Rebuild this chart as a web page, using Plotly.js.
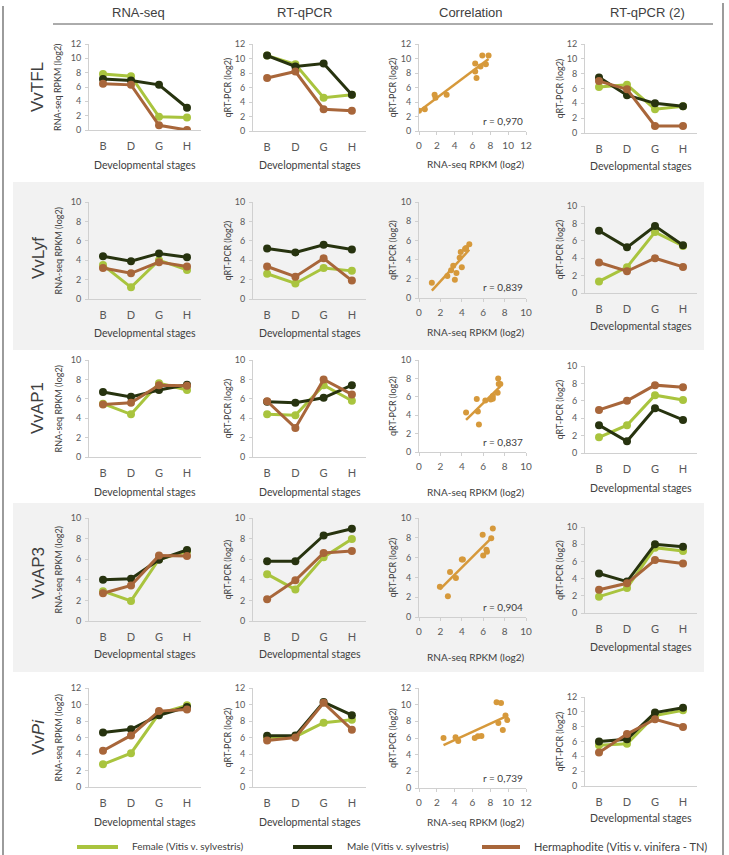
<!DOCTYPE html>
<html><head><meta charset="utf-8">
<script src="https://cdn.plot.ly/plotly-3.0.1.min.js"></script>
<style>html,body{margin:0;padding:0;background:#fff}#chart{width:729px;height:855px}</style>
</head><body><div id="chart"></div>
<script>
const stages = ['B','D','G','H'];
const genes = ['VvTFL','VvLyf','VvAP1','VvAP3','Vv<i>Pi</i>'];
const genotypes = ['Female (Vitis v. sylvestris)','Male (Vitis v. sylvestris)','Hermaphodite (Vitis v. vinifera - TN)'];
const columnTitles = ['RNA-seq','RT-qPCR','Correlation','RT-qPCR (2)'];
const rValues = ['0,970','0,839','0,837','0,904','0,739'];
const yMax = [12,10,10,10,12];
const corrXMax = [12,10,10,10,12];

// each array: [female, male, hermaphrodite] x stages B, D, G, H
const TFL_rnaseq = [[7.8,7.5,1.85,1.75],[7.1,6.9,6.3,3.1],[6.45,6.3,0.65,0]];
const TFL_qpcr   = [[10.4,9.2,4.6,5.0],[10.4,8.9,9.3,5.0],[7.3,8.2,3.0,2.8]];
const TFL_qpcr2  = [[6.2,6.5,3.2,3.6],[7.5,5.1,4.0,3.6],[7.0,5.9,0.95,0.95]];
const Lyf_rnaseq = [[3.5,1.2,4.0,3.0],[4.4,3.9,4.7,4.3],[3.2,2.65,3.8,3.35]];
const Lyf_qpcr   = [[2.6,1.6,3.2,2.9],[5.2,4.8,5.6,5.1],[3.35,2.3,4.2,1.9]];
const Lyf_qpcr2  = [[1.33,2.97,7.0,5.4],[7.15,5.25,7.7,5.5],[3.5,2.5,4.0,3.0]];
const AP1_rnaseq = [[5.5,4.4,7.6,6.9],[6.7,6.2,6.9,7.45],[5.4,5.6,7.4,7.35]];
const AP1_qpcr   = [[4.4,4.3,7.4,5.8],[5.7,5.6,6.1,7.4],[5.75,3.0,8.0,6.45]];
const AP1_qpcr2  = [[1.8,3.2,6.65,6.1],[3.2,1.35,5.15,3.8],[4.95,6.0,7.8,7.55]];
const AP3_rnaseq = [[2.9,1.95,6.0,6.75],[4.0,4.1,5.95,6.9],[2.7,3.45,6.35,6.3]];
const AP3_qpcr   = [[4.55,3.05,6.2,7.95],[5.8,5.8,8.3,8.95],[2.1,3.95,6.6,6.8]];
const AP3_qpcr2  = [[1.9,2.9,7.6,7.2],[4.6,3.65,8.0,7.7],[2.7,3.45,6.15,5.75]];
const Pi_rnaseq  = [[2.75,4.1,8.9,9.9],[6.6,7.0,8.7,9.7],[4.4,6.25,9.2,9.4]];
const Pi_qpcr    = [[6.0,6.1,7.8,8.15],[6.2,6.25,10.3,8.7],[5.65,6.0,10.2,6.95]];
const Pi_qpcr2   = [[5.5,5.7,9.5,10.2],[6.0,6.3,9.9,10.55],[4.5,7.0,9.0,7.95]];

const rnaseqData = [TFL_rnaseq, Lyf_rnaseq, AP1_rnaseq, AP3_rnaseq, Pi_rnaseq];
const qpcrData   = [TFL_qpcr, Lyf_qpcr, AP1_qpcr, AP3_qpcr, Pi_qpcr];
const qpcr2Data  = [TFL_qpcr2, Lyf_qpcr2, AP1_qpcr2, AP3_qpcr2, Pi_qpcr2];

// ---- styling / geometry (pixels) ----
const W = 729, H = 855;
const seriesColors = ['#a9c43e','#27330f','#a8663a'];
const corrColor = '#d6993b';
const colX = [[89,201],[253,366],[419,526],[585,697]];
const rowY = [
  [[44,130],[44,131],[44,131],[44,133]],
  [[202,299],[202,299],[202,298],[206,293]],
  [[360,457],[360,457],[360,452],[366,453]],
  [[518,621],[518,621],[518,617],[527,613]],
  [[688,787],[688,787],[688,788],[697,786]]
];
const xTitleY = [[165,165,164,166],[333,333,332,326],[492,492,492,488],[654,654,657,647],[822,822,822,818]];
const yTitleX = [58,227,392,559];
const rowLabelY = [87,258,408,573,737];
const rY = [121,287,442,607,778];

const px = x => x / W;
const py = y => 1 - y / H;
const FONT = 'Lato, "Open Sans", sans-serif';
const tickGray = '#595959';
const axisLine = '#d0d0d0';

const traces = [];
const layout = {
  width: W, height: H,
  margin: {l:0, r:0, t:0, b:0},
  paper_bgcolor: '#ffffff',
  plot_bgcolor: 'rgba(0,0,0,0)',
  showlegend: false,
  font: {family: FONT, color: tickGray},
  shapes: [], annotations: []
};

function ann(text, x, y, opts) {
  layout.annotations.push(Object.assign({
    text: text, x: px(x), y: py(y), xref: 'paper', yref: 'paper',
    showarrow: false, xanchor: 'center', yanchor: 'middle',
    font: {family: FONT, size: 10, color: tickGray}
  }, opts || {}));
}

for (let r = 0; r < 5; r++) {
  for (let c = 0; c < 4; c++) {
    const k = r * 4 + c + 1;
    const xa = k === 1 ? 'xaxis' : 'xaxis' + k;
    const ya = k === 1 ? 'yaxis' : 'yaxis' + k;
    const xr = 'x' + (k === 1 ? '' : k);
    const yr = 'y' + (k === 1 ? '' : k);
    const [y0, y1] = rowY[r][c];
    const [x0, x1] = colX[c];
    const isCorr = c === 2;
    layout[xa] = {
      domain: [px(x0), px(x1)], anchor: yr,
      showline: true, linecolor: axisLine, linewidth: 1,
      showgrid: false, zeroline: false, fixedrange: true,
      tickfont: {family: FONT, size: isCorr ? 10 : 11, color: tickGray}
    };
    if (isCorr) {
      Object.assign(layout[xa], {type: 'linear', range: [0, corrXMax[r]], dtick: 2,
        ticks: 'outside', ticklen: 3, tickcolor: axisLine, ticklabelstandoff: 2});
    } else {
      Object.assign(layout[xa], {type: 'category', range: [-0.5, 3.5], ticks: '', ticklabelstandoff: 6});
    }
    layout[ya] = {
      domain: [py(y1), py(y0)], anchor: xr,
      range: [0, yMax[r]], dtick: 2,
      showline: true, linecolor: axisLine, linewidth: 1,
      ticks: 'outside', ticklen: 3, tickcolor: axisLine,
      showgrid: false, zeroline: false, fixedrange: true,
      tickfont: {family: FONT, size: 9, color: tickGray}, ticklabelstandoff: 2
    };

    if (isCorr) {
      const xs = rnaseqData[r].flat();
      const ys = qpcrData[r].flat();
      traces.push({type: 'scatter', mode: 'markers', x: xs, y: ys, xaxis: xr, yaxis: yr,
        marker: {size: 6, color: corrColor}, hoverinfo: 'skip'});
      // least-squares trend line through the points
      const n = xs.length;
      const mx = xs.reduce((a,b)=>a+b,0)/n, my = ys.reduce((a,b)=>a+b,0)/n;
      let sxy = 0, sxx = 0;
      for (let i = 0; i < n; i++) { sxy += (xs[i]-mx)*(ys[i]-my); sxx += (xs[i]-mx)**2; }
      const b = sxy / sxx, a = my - b * mx;
      const xmin = Math.min(...xs), xmax = Math.max(...xs);
      traces.push({type: 'scatter', mode: 'lines', x: [xmin, xmax], y: [a + b*xmin, a + b*xmax],
        xaxis: xr, yaxis: yr, line: {color: corrColor, width: 2.5}, hoverinfo: 'skip'});
      ann('r = ' + rValues[r], 503, rY[r], {font: {family: FONT, size: 10, color: '#404040'}});
      ann('RNA-seq RPKM (log2)', 476, xTitleY[r][c], {font: {family: FONT, size: 10, color: '#404040'}});
      ann('qRT-PCR (log2)', yTitleX[c], (y0 + y1) / 2, {textangle: -90, font: {family: FONT, size: 9, color: '#404040'}});
    } else {
      const data = c === 0 ? rnaseqData[r] : (c === 1 ? qpcrData[r] : qpcr2Data[r]);
      for (let g = 0; g < 3; g++) {
        traces.push({type: 'scatter', mode: 'lines+markers', x: stages, y: data[g],
          xaxis: xr, yaxis: yr, name: genotypes[g],
          line: {color: seriesColors[g], width: 3},
          marker: {size: 8, color: seriesColors[g]}, hoverinfo: 'skip'});
      }
      ann('Developmental stages', (x0 + x1) / 2, xTitleY[r][c], {font: {family: FONT, size: 10.5, color: '#404040'}});
      ann(c === 0 ? 'RNA-seq RPKM (log2)' : 'qRT-PCR (log2)', yTitleX[c], (y0 + y1) / 2,
        {textangle: -90, font: {family: FONT, size: 9, color: '#404040'}});
    }
  }
  ann(genes[r], 38, rowLabelY[r], {textangle: -90,
    font: {family: '"Liberation Sans", Arial, sans-serif', size: 17, color: '#404040'}});
}

// column headers
const headerX = [138, 304, 471, 647];
columnTitles.forEach((t, i) => ann(t, headerX[i], 12,
  {font: {family: '"Liberation Sans", Arial, sans-serif', size: 13, color: '#404040'}}));

// shapes: bands, header rule, frame, legend lines
const sh = (o) => layout.shapes.push(Object.assign({xref: 'paper', yref: 'paper'}, o));
sh({type: 'rect', x0: px(13), x1: px(704), y0: py(350), y1: py(182), fillcolor: '#f2f2f2', line: {width: 0}, layer: 'below'});
sh({type: 'rect', x0: px(13), x1: px(704), y0: py(672), y1: py(503), fillcolor: '#f2f2f2', line: {width: 0}, layer: 'below'});
sh({type: 'line', x0: px(53), x1: px(713), y0: py(24), y1: py(24), line: {color: '#595959', width: 1}});
sh({type: 'line', x0: px(3), x1: px(3), y0: py(6), y1: py(855), line: {color: '#595959', width: 1.2}});
sh({type: 'line', x0: px(723), x1: px(723), y0: py(3), y1: py(855), line: {color: '#595959', width: 1.2}});

const legendLine = [[77,118],[293,332],[482,520]];
const legendText = [130, 345, 532];
const legendSize = [10, 10, 11];
for (let g = 0; g < 3; g++) {
  sh({type: 'line', x0: px(legendLine[g][0]), x1: px(legendLine[g][1]), y0: py(847), y1: py(847),
     line: {color: seriesColors[g], width: 4}});
  ann(genotypes[g], legendText[g], 846, {xanchor: 'left', font: {family: FONT, size: legendSize[g], color: '#404040'}});
}

Plotly.newPlot('chart', traces, layout, {staticPlot: true, displayModeBar: false});
</script>
</body></html>
